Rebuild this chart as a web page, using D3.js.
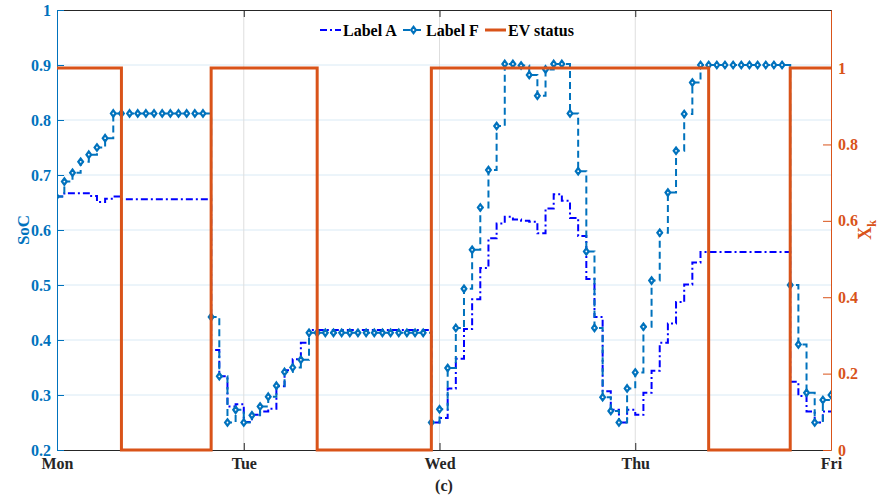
<!DOCTYPE html>
<html>
<head>
<meta charset="utf-8">
<script src="https://cdn.jsdelivr.net/npm/d3@7/dist/d3.min.js"></script>
<style>
  body { margin: 0; background: #fff; }
  text { font-family: "Liberation Serif", "Times New Roman", serif; font-weight: bold; }
</style>
</head>
<body>
<svg id="socChart"></svg>
<script>
// hourly values, hour 1 .. 96 (Mon -> Fri)
var dayLabels = ["Mon", "Tue", "Wed", "Thu", "Fri"];
var dayTicks = [1.1, 24, 48, 72, 96];
var socTicks = [0.2, 0.3, 0.4, 0.5, 0.6, 0.7, 0.8, 0.9, 1];
var xkTicks = [0, 0.2, 0.4, 0.6, 0.8, 1];

var labelA = [
  0.661, 0.667, 0.667, 0.667, 0.662, 0.651, 0.657, 0.661,
  0.656, 0.656, 0.656, 0.656, 0.656, 0.656, 0.656, 0.656, 0.656, 0.656, 0.656,
  0.382, 0.334, 0.279, 0.283, 0.251, 0.264, 0.270, 0.275, 0.316, 0.345, 0.365, 0.395,
  0.418, 0.418, 0.418, 0.418, 0.418, 0.418, 0.418, 0.418, 0.418, 0.418, 0.418, 0.418, 0.418, 0.418, 0.418,
  0.250, 0.258, 0.312, 0.366, 0.420, 0.474, 0.531, 0.585, 0.612, 0.624, 0.619,
  0.617, 0.615, 0.594, 0.639, 0.665, 0.653, 0.622, 0.589, 0.511, 0.442, 0.307,
  0.273, 0.250, 0.273, 0.264, 0.304, 0.344, 0.395, 0.430, 0.469, 0.501, 0.541,
  0.560, 0.560, 0.560, 0.560, 0.560, 0.560, 0.560, 0.560, 0.560, 0.560, 0.560,
  0.324, 0.298, 0.270, 0.250, 0.270, 0.270
];
var labelF = [
  0.661, 0.688, 0.704, 0.724, 0.737, 0.750, 0.767,
  0.812, 0.812, 0.812, 0.812, 0.812, 0.812, 0.812, 0.812, 0.812, 0.812, 0.812, 0.812,
  0.442, 0.334, 0.250, 0.273, 0.250, 0.263, 0.279, 0.297, 0.317, 0.342, 0.350, 0.364,
  0.413, 0.413, 0.413, 0.413, 0.413, 0.413, 0.413, 0.413, 0.413, 0.413, 0.413, 0.413, 0.413, 0.413, 0.413,
  0.250, 0.274, 0.349, 0.422, 0.493, 0.564, 0.641, 0.709, 0.789, 0.902, 0.902,
  0.899, 0.882, 0.844, 0.892, 0.902, 0.902, 0.812, 0.707, 0.561, 0.422, 0.296,
  0.271, 0.250, 0.312, 0.341, 0.424, 0.508, 0.595, 0.668, 0.744, 0.811, 0.868,
  0.900, 0.900, 0.900, 0.900, 0.900, 0.900, 0.900, 0.900, 0.900, 0.900, 0.900,
  0.500, 0.392, 0.304, 0.250, 0.291, 0.300
];
var evStatus = [
  1, 1, 1, 1, 1, 1, 1, 1,
  0, 0, 0, 0, 0, 0, 0, 0, 0, 0, 0,
  1, 1, 1, 1, 1, 1, 1, 1, 1, 1, 1, 1, 1,
  0, 0, 0, 0, 0, 0, 0, 0, 0, 0, 0, 0, 0, 0,
  1, 1, 1, 1, 1, 1, 1, 1, 1, 1, 1, 1, 1, 1, 1, 1, 1,
  1, 1, 1, 1, 1, 1, 1, 1, 1, 1, 1, 1, 1, 1, 1, 1, 1,
  0, 0, 0, 0, 0, 0, 0, 0, 0, 0,
  1, 1, 1, 1, 1, 1
];

var colA = "#0000ff", colF = "#0072bd", colEV = "#d95319";

// set the dimensions and margins of the graph
var margin = { left: 57, right: 54, top: 10, bottom: 47 },
    width = 885 - margin.left - margin.right,
    height = 497 - margin.top - margin.bottom;

var svg = d3.select("#socChart")
    .attr("width", 885)
    .attr("height", 497);
var g = svg.append("g")
    .attr("transform", "translate(" + margin.left + "," + margin.top + ")");

// Scales
var x = d3.scaleLinear().domain([1.1, 96]).range([0, width]);
var yL = d3.scaleLinear().domain([0.2, 1]).range([height, 0]);
var yR = d3.scaleLinear().domain([0, 1.152]).range([height, 0]);

function hour(i) { return i + 1; }

// Grid
g.selectAll(".hgrid")
    .data(socTicks.slice(1, -1))
    .enter().append("line")
    .attr("x1", 0).attr("x2", width)
    .attr("y1", function(d) { return yL(d); })
    .attr("y2", function(d) { return yL(d); })
    .attr("stroke", "#d9eaf5")
    .attr("stroke-width", 1);
g.selectAll(".vgrid")
    .data(dayTicks.slice(1, -1))
    .enter().append("line")
    .attr("y1", 0).attr("y2", height)
    .attr("x1", function(d) { return x(d); })
    .attr("x2", function(d) { return x(d); })
    .attr("stroke", "#dedede")
    .attr("stroke-width", 1);

// Axes
var fmt = function(d) { return d === 0 || d === 1 ? String(d) : d3.format(".1f")(d); };

var xAxis = g.append("g")
    .attr("transform", "translate(0," + height + ")")
    .call(d3.axisBottom(x).tickValues(dayTicks)
        .tickFormat(function(d, i) { return dayLabels[i]; })
        .tickSize(-7).tickSizeOuter(0).tickPadding(8));
xAxis.select(".domain").attr("stroke", "#262626");
xAxis.selectAll(".tick line").attr("stroke", "#262626");
xAxis.selectAll("text").attr("fill", "#262626").style("font-size", "16px");

var topAxis = g.append("g")
    .call(d3.axisTop(x).tickValues(dayTicks).tickFormat("")
        .tickSize(-7).tickSizeOuter(0));
topAxis.select(".domain").attr("stroke", "#262626");
topAxis.selectAll(".tick line").attr("stroke", "#262626");

var yAxisL = g.append("g")
    .call(d3.axisLeft(yL).tickValues(socTicks).tickFormat(fmt)
        .tickSize(-7).tickSizeOuter(0).tickPadding(6));
yAxisL.select(".domain").attr("stroke", colF);
yAxisL.selectAll(".tick line").attr("stroke", colF);
yAxisL.selectAll("text").attr("fill", colF).style("font-size", "16px");

var yAxisR = g.append("g")
    .attr("transform", "translate(" + width + ",0)")
    .call(d3.axisRight(yR).tickValues(xkTicks).tickFormat(fmt)
        .tickSize(-8).tickSizeOuter(0).tickPadding(7));
yAxisR.select(".domain").attr("stroke", colEV);
yAxisR.selectAll(".tick line").attr("stroke", colEV);
yAxisR.selectAll("text").attr("fill", colEV).style("font-size", "16px");

// Axis titles
g.append("text")
    .attr("transform", "translate(-28," + (height / 2) + ") rotate(-90)")
    .attr("text-anchor", "middle")
    .attr("fill", colF)
    .style("font-size", "17px")
    .text("SoC");
var xk = g.append("text")
    .attr("transform", "translate(" + (width + 40) + "," + (height / 2) + ") rotate(-90)")
    .attr("text-anchor", "middle")
    .attr("fill", colEV)
    .style("font-size", "18px");
xk.append("tspan").text("X");
xk.append("tspan").attr("dy", 5).style("font-size", "12px").text("k");

svg.append("text")
    .attr("x", 444).attr("y", 491)
    .attr("text-anchor", "middle")
    .attr("fill", "#262626")
    .style("font-size", "16px")
    .text("(c)");

// stairs line generators
var lineA = d3.line()
    .curve(d3.curveStepAfter)
    .x(function(d, i) { return x(hour(i)); })
    .y(function(d) { return yL(d); });
var lineEV = d3.line()
    .curve(d3.curveStepAfter)
    .x(function(d, i) { return x(hour(i)); })
    .y(function(d) { return yR(d); });

svg.append("clipPath").attr("id", "plotClip")
  .append("rect")
    .attr("x", 0).attr("y", -4)
    .attr("width", width).attr("height", height + 8);

var plot = g.append("g").attr("clip-path", "url(#plotClip)");

plot.append("path")
    .attr("d", lineA(labelA))
    .attr("fill", "none")
    .attr("stroke", colA)
    .attr("stroke-width", 2)
    .attr("stroke-dasharray", "7,3,2,3");

plot.append("path")
    .attr("d", lineA(labelF))
    .attr("fill", "none")
    .attr("stroke", colF)
    .attr("stroke-width", 2)
    .attr("stroke-dasharray", "7,4");

// diamond marker, filled with a small white centre
var diamond = "M0,-3.8L2.8,0L0,3.8L-2.8,0Z";
function drawMark(sel) {
    sel.append("path")
        .attr("d", diamond)
        .attr("fill", colF)
        .attr("stroke", colF)
        .attr("stroke-width", 1.5);
    sel.append("circle")
        .attr("r", 0.9)
        .attr("fill", "#fff");
}
plot.selectAll(".markF")
    .data(labelF)
    .enter().append("g")
    .attr("class", "markF")
    .attr("transform", function(d, i) { return "translate(" + x(hour(i)) + "," + yL(d) + ")"; })
    .call(drawMark);

plot.append("path")
    .attr("d", lineEV(evStatus))
    .attr("fill", "none")
    .attr("stroke", colEV)
    .attr("stroke-width", 3);

// Legend
var legend = svg.append("g").attr("transform", "translate(0,30)");
var items = [
  { name: "Label A", x: 320, color: colA, dash: "7,3,2,3", mark: false },
  { name: "Label F", x: 403, color: colF, dash: "7,4", mark: true },
  { name: "EV status", x: 485, color: colEV, dash: null, mark: false }
];
items.forEach(function(it) {
    legend.append("line")
        .attr("x1", it.x).attr("x2", it.x + 21)
        .attr("y1", 0).attr("y2", 0)
        .attr("stroke", it.color)
        .attr("stroke-width", it.dash ? 2 : 3)
        .attr("stroke-dasharray", it.dash);
    if (it.mark) {
        legend.append("g")
            .attr("transform", "translate(" + (it.x + 10.5) + ",0)")
            .call(drawMark);
    }
    legend.append("text")
        .attr("x", it.x + 23).attr("y", 5.5)
        .attr("fill", "#000")
        .style("font-size", "16px")
        .text(it.name);
});
</script>
</body>
</html>
